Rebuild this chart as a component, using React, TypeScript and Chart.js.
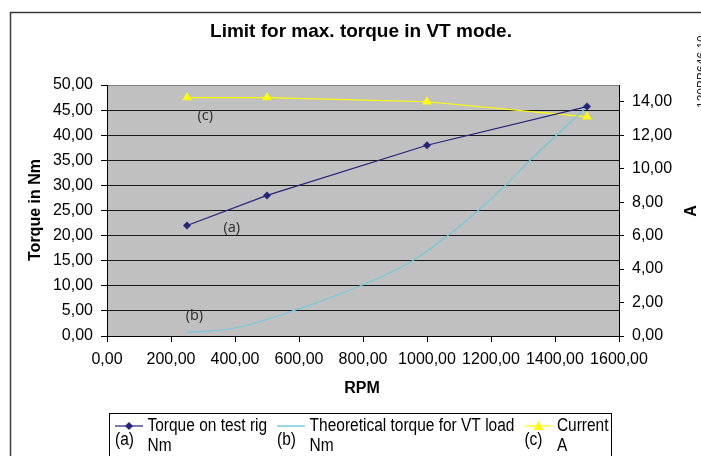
import React, { useEffect, useRef } from 'react';
import { Chart, registerables } from 'chart.js';

Chart.register(...registerables);

// ---- data ----
const chartTitle = 'Limit for max. torque in VT mode.';
const xTitle = 'RPM';
const yLeftTitle = 'Torque in Nm';
const yRightTitle = 'A';
const figureId = '130BB646.10';

const rpmPoints = [250, 500, 1000, 1500];
const torqueTestRig = [22.0, 28.0, 38.0, 45.7];
const currentA = [14.25, 14.25, 14.0, 13.1];

const theoreticalRpm = [250, 395, 590, 800, 955, 1065, 1160, 1245, 1322, 1405, 1500];
const theoreticalTorque = [0.74, 1.55, 5.2, 10.2, 15.0, 20.0, 25.0, 30.0, 35.0, 40.0, 45.7];

const xRange = [0, 1600, 200];
const yLeftRange = [0, 50, 5];
const yRightRange = [0, 15, 2];

const seriesNames = [
  ['Torque on test rig', 'Nm'],
  ['Theoretical torque for VT load', 'Nm'],
  ['Current', 'A'],
];
const seriesTags = ['(a)', '(b)', '(c)'];
const seriesColors = ['#24247a', '#72c8e0', '#ffff00'];
// in-plot tag anchors (data coordinates: rpm, torque on left axis)
const tagRpm = [390, 273, 307];
const tagTorque = [21.45, 4.0, 43.8];

const fmt = (v: number) => Number(v).toFixed(2).replace('.', ',');
const FONT = '"Liberation Sans", Arial, sans-serif';

function drawScaledText(ctx: CanvasRenderingContext2D, text: string, x: number, y: number, sx: number) {
  ctx.save();
  ctx.translate(x, y);
  ctx.scale(sx, 1);
  ctx.fillText(text, 0, 0);
  ctx.restore();
}

const decorPlugin = {
  id: 'decor',
  beforeDraw(chart: any) {
    const { ctx, chartArea: a } = chart;
    ctx.save();
    ctx.fillStyle = '#ffffff';
    ctx.fillRect(0, 0, chart.width, chart.height);
    ctx.fillStyle = '#c0c0c0';
    ctx.fillRect(a.left, a.top, a.right - a.left, a.bottom - a.top);
    ctx.strokeStyle = '#3a3a3a';
    ctx.lineWidth = 1.5;
    ctx.strokeRect(10.5, 12.5, chart.width + 40, chart.height + 40);
    ctx.restore();
  },
  afterDraw(chart: any) {
    const { ctx, scales } = chart;
    ctx.save();
    ctx.fillStyle = '#000';
    // title
    ctx.font = `bold 19px ${FONT}`;
    ctx.textAlign = 'center';
    ctx.textBaseline = 'middle';
    ctx.fillText(chartTitle, 361, 32);
    // x title
    ctx.font = `bold 16px ${FONT}`;
    ctx.fillText(xTitle, 362, 389);
    // left y title
    ctx.save();
    ctx.translate(36, 210);
    ctx.rotate(-Math.PI / 2);
    ctx.fillText(yLeftTitle, 0, 0);
    ctx.restore();
    // right y title
    ctx.save();
    ctx.translate(692, 211);
    ctx.rotate(-Math.PI / 2);
    ctx.fillText(yRightTitle, 0, 0);
    ctx.restore();
    // figure id, clipped at edge
    ctx.save();
    ctx.translate(706, 108);
    ctx.rotate(-Math.PI / 2);
    ctx.font = `12px ${FONT}`;
    ctx.textAlign = 'left';
    ctx.textBaseline = 'alphabetic';
    ctx.fillStyle = '#222';
    ctx.fillText(figureId, 0, 0);
    ctx.restore();

    // in-plot tags
    ctx.font = '14.5px "Open Sans", sans-serif';
    ctx.fillStyle = '#2a2a2a';
    ctx.textAlign = 'center';
    ctx.textBaseline = 'middle';
    for (let i = 0; i < seriesTags.length; i++) {
      ctx.fillText(seriesTags[i], scales.x.getPixelForValue(tagRpm[i]), scales.y.getPixelForValue(tagTorque[i]));
    }

    // legend
    const boxL = 109.5, boxT = 413.5, boxR = 611.5;
    ctx.strokeStyle = '#000';
    ctx.lineWidth = 1;
    ctx.strokeRect(boxL, boxT, boxR - boxL, 80);
    const sx = 0.86;
    ctx.font = `18px ${FONT}`;
    ctx.textAlign = 'left';
    ctx.textBaseline = 'middle';
    let x = 115;
    const lineY = 426;
    for (let i = 0; i < seriesNames.length; i++) {
      const ls = x, le = x + 28;
      ctx.strokeStyle = seriesColors[i];
      ctx.lineWidth = i === 1 ? 1.5 : 1.2;
      ctx.beginPath();
      ctx.moveTo(ls, lineY);
      ctx.lineTo(le, lineY);
      ctx.stroke();
      const mx = (ls + le) / 2;
      ctx.fillStyle = seriesColors[i];
      if (i === 0) {
        ctx.beginPath();
        ctx.moveTo(mx, lineY - 4);
        ctx.lineTo(mx + 4, lineY);
        ctx.lineTo(mx, lineY + 4);
        ctx.lineTo(mx - 4, lineY);
        ctx.closePath();
        ctx.fill();
      } else if (i === 2) {
        ctx.beginPath();
        ctx.moveTo(mx, lineY - 5);
        ctx.lineTo(mx + 5, lineY + 4);
        ctx.lineTo(mx - 5, lineY + 4);
        ctx.closePath();
        ctx.fill();
      }
      ctx.fillStyle = '#000';
      drawScaledText(ctx, seriesTags[i], ls, 440, sx);
      const tx = le + 4.5;
      let w = 0;
      seriesNames[i].forEach((t, k) => {
        drawScaledText(ctx, t, tx, k === 0 ? 426 : 446, sx);
        w = Math.max(w, ctx.measureText(t).width * sx);
      });
      x = tx + w + 10;
    }
    ctx.restore();
  },
};

export default function App() {
  const ref = useRef<HTMLCanvasElement | null>(null);
  useEffect(() => {
    if (!ref.current) return;
    const tickFont = { family: FONT, size: 16 };
    const chart = new Chart(ref.current, {
      type: 'line',
      data: {
        datasets: [
          {
            label: seriesNames[0].join(' '),
            data: rpmPoints.map((x, i) => ({ x, y: torqueTestRig[i] })),
            yAxisID: 'y',
            borderColor: seriesColors[0],
            backgroundColor: seriesColors[0],
            borderWidth: 1.2,
            pointStyle: 'rectRot',
            pointRadius: 4,
            pointBorderWidth: 0,
            tension: 0,
          },
          {
            label: seriesNames[1].join(' '),
            data: theoreticalRpm.map((x, i) => ({ x, y: theoreticalTorque[i] })),
            yAxisID: 'y',
            borderColor: seriesColors[1],
            backgroundColor: seriesColors[1],
            borderWidth: 1.2,
            pointRadius: 0,
            cubicInterpolationMode: 'monotone',
          },
          {
            label: seriesNames[2].join(' '),
            data: rpmPoints.map((x, i) => ({ x, y: currentA[i] })),
            yAxisID: 'y1',
            borderColor: seriesColors[2],
            backgroundColor: seriesColors[2],
            borderWidth: 1.2,
            pointStyle: 'triangle',
            pointRadius: 5.5,
            pointBorderWidth: 0,
            tension: 0,
          },
        ],
      } as any,
      options: {
        animation: false,
        responsive: false,
        devicePixelRatio: 1,
        layout: { padding: { top: 85, left: 0, right: 0, bottom: 0 } },
        plugins: { legend: { display: false }, title: { display: false }, tooltip: { enabled: false } },
        scales: {
          x: {
            type: 'linear',
            min: xRange[0],
            max: xRange[1],
            ticks: { stepSize: xRange[2], callback: (v: any) => fmt(v), color: '#000', font: tickFont, padding: 8, maxRotation: 0, autoSkip: false },
            grid: { drawOnChartArea: false, drawTicks: true, tickLength: 6, color: '#000' },
            border: { display: true, color: '#000', width: 1 },
            afterFit: (s: any) => { s.height = 120; },
          },
          y: {
            type: 'linear',
            position: 'left',
            min: yLeftRange[0],
            max: yLeftRange[1],
            ticks: { stepSize: yLeftRange[2], callback: (v: any) => fmt(v), color: '#000', font: tickFont, padding: 8 },
            grid: { color: (c: any) => (c.tick && c.tick.value === yLeftRange[1] ? '#808080' : '#1a1a1a'), lineWidth: 1, tickLength: 6, tickColor: '#000' },
            border: { display: true, color: '#000', width: 1 },
            afterFit: (s: any) => { s.width = 107; },
          },
          y1: {
            type: 'linear',
            position: 'right',
            min: yRightRange[0],
            max: yRightRange[1],
            ticks: { stepSize: yRightRange[2], includeBounds: false, callback: (v: any) => fmt(v), color: '#000', font: tickFont, padding: 8 },
            grid: { drawOnChartArea: false, drawTicks: true, tickLength: 5, color: '#000' },
            border: { display: true, color: '#000', width: 1 },
            afterFit: (s: any) => { s.width = 82; },
          },
        },
      } as any,
      plugins: [decorPlugin],
    });
    return () => chart.destroy();
  }, []);
  return (
    <div style={{ position: 'fixed', left: 0, top: 0, width: 701, height: 456, background: '#fff' }}>
      <canvas ref={ref} width={701} height={456} style={{ display: 'block', width: 701, height: 456 }} />
    </div>
  );
}
